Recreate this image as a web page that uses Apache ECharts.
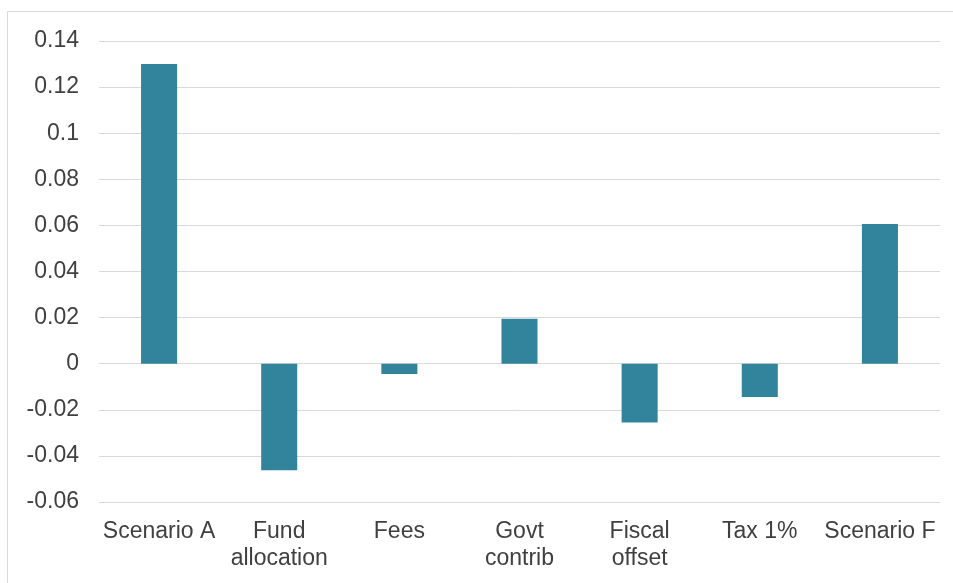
<!DOCTYPE html>
<html>
<head>
<meta charset="utf-8">
<style>
  html, body { margin: 0; padding: 0; background: #ffffff; }
  #chart { width: 953px; height: 583px; }
</style>
<script src="https://cdn.jsdelivr.net/npm/echarts@6/dist/echarts.min.js"></script>
</head>
<body>
<div id="chart"></div>
<script>
// Scenario labels along the category axis
const categories = [
  'Scenario A',
  'Fund\nallocation',
  'Fees',
  'Govt\ncontrib',
  'Fiscal\noffset',
  'Tax 1%',
  'Scenario F'
];

// Change per scenario
const values = [0.130, -0.0462, -0.0045, 0.0195, -0.0255, -0.0145, 0.0606];

// Value axis range and step
const yMin = -0.06;
const yMax = 0.14;
const yStep = 0.02;

const textColor = '#404040';
const fontFamily = '"Liberation Sans", Arial, sans-serif';

const chart = echarts.init(document.getElementById('chart'), null, { renderer: 'canvas' });

chart.setOption({
  animation: false,
  backgroundColor: '#ffffff',
  graphic: [{
    type: 'rect',
    shape: { x: 7.5, y: 11.5, width: 960, height: 600 },
    style: { fill: 'none', stroke: '#d9d9d9', lineWidth: 1 },
    silent: true,
    z: -10
  }],
  grid: { left: 99, right: 13, top: 41, bottom: 81, containLabel: false },
  xAxis: {
    type: 'category',
    data: categories,
    axisLine: { show: false },
    axisTick: { show: false },
    splitLine: { show: false },
    axisLabel: {
      color: textColor,
      fontFamily: fontFamily,
      fontSize: 23,
      lineHeight: 27,
      margin: 16,
      interval: 0
    }
  },
  yAxis: {
    type: 'value',
    min: yMin,
    max: yMax,
    interval: yStep,
    axisLine: { show: false },
    axisTick: { show: false },
    splitLine: { lineStyle: { color: '#d9d9d9', width: 1 } },
    axisLabel: {
      color: textColor,
      fontFamily: fontFamily,
      fontSize: 23,
      margin: 20,
      formatter: v => String(parseFloat(v.toFixed(2)))
    }
  },
  series: [{
    type: 'bar',
    data: values,
    barWidth: '30%',
    itemStyle: { color: '#31849b' }
  }]
});
</script>
</body>
</html>
